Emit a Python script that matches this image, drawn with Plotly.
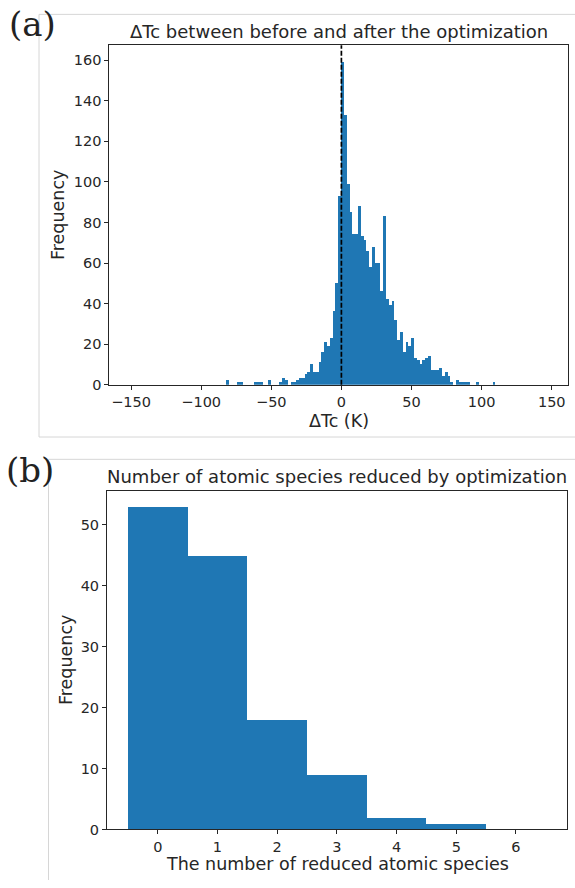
import numpy as np
import plotly.graph_objects as go

# ---------------- data ----------------
# Panel (a): histogram of delta Tc, bins of width 2 K starting at -82 K
dtc_bin_start = -82.0
dtc_bin_width = 2.0
dtc_counts = [
    2, 0, 0, 0, 1, 1, 0, 0, 0, 0,      # -82 .. -64
    1, 1, 1, 0, 0, 2, 0, 0, 0, 1,      # -62 .. -44
    3, 2, 0, 1, 1, 2, 3, 3, 5, 6,      # -42 .. -24
    10, 6, 6, 11, 16, 21, 19, 23, 36, 50,  # -22 .. -4
    93,                                # -2
    159, 133, 99, 85, 74, 74, 88, 73, 71, 66,  # 0 .. 18
    58, 68, 60, 60, 46, 83, 42, 39, 41, 32,    # 20 .. 38
    22, 26, 16, 21, 19, 23, 13, 12, 10, 12,    # 40 .. 58
    13, 14, 7, 7, 7, 8, 4, 6, 4, 1,            # 60 .. 78
    0, 2, 1, 1, 1, 1, 0, 0, 1, 0,              # 80 .. 98
    0, 0, 0, 0, 1,                             # 100 .. 106
]
dtc_xticks = [-150, -100, -50, 0, 50, 100, 150]
dtc_yticks = [0, 20, 40, 60, 80, 100, 120, 140, 160]

# Panel (b): number of atomic species reduced
species_reduced = [0, 1, 2, 3, 4, 5, 6]
species_counts = [53, 45, 18, 9, 2, 1, 0]
species_yticks = [0, 10, 20, 30, 40, 50]

title_a = "ΔTc between before and after the optimization"
title_b = "Number of atomic species reduced by optimization"
xlabel_a = "ΔTc (K)"
xlabel_b = "The number of reduced atomic species"
ylabel = "Frequency"

# ---------------- layout helpers ----------------
W, H = 575, 888


def px(x):
    return x / W


def py(y):
    return 1 - y / H


BLUE = "#1f77b4"
TXT = "#262626"
FONT = "DejaVu Sans"

dtc_centers = dtc_bin_start + dtc_bin_width * (np.arange(len(dtc_counts)) + 0.5)

fig = go.Figure()
fig.add_trace(go.Bar(x=dtc_centers, y=dtc_counts, width=dtc_bin_width,
                     marker=dict(color=BLUE, line=dict(width=0)),
                     xaxis="x", yaxis="y", showlegend=False))
fig.add_trace(go.Bar(x=species_reduced, y=species_counts, width=1.0,
                     marker=dict(color=BLUE, line=dict(width=0)),
                     xaxis="x2", yaxis="y2", showlegend=False))

axis_common = dict(showline=True, mirror=True, linecolor=TXT, linewidth=1,
                   ticks="outside", ticklen=4, tickcolor=TXT, tickwidth=1,
                   showgrid=False, zeroline=False,
                   tickfont=dict(family=FONT, size=14.5, color=TXT))

fig.update_layout(
    width=W, height=H, autosize=False,
    margin=dict(l=0, r=0, t=0, b=0),
    paper_bgcolor="white", plot_bgcolor="white",
    bargap=0,
    font=dict(family=FONT, color=TXT),
    xaxis=dict(domain=[px(109.3), px(568.3)], anchor="y",
               range=[-165.5, 161.8], tickvals=dtc_xticks, **axis_common),
    yaxis=dict(domain=[py(388.3), py(45.7)], anchor="x",
               range=[0, 167.3], tickvals=dtc_yticks, **axis_common),
    xaxis2=dict(domain=[px(107), px(566.7)], anchor="y2",
                range=[-0.85, 6.85], tickvals=species_reduced, **axis_common),
    yaxis2=dict(domain=[py(837), py(495)], anchor="x2",
                range=[0, 55.65], tickvals=species_yticks, **axis_common),
)

# dashed line at zero
fig.add_shape(type="line", xref="x", yref="y domain", x0=0, x1=0, y0=0, y1=1,
              line=dict(color="black", width=1.7, dash="5px,2px"))

# panel frames (light grey)
GREY = "#d6d6d6"
for (x0, y0, x1, y1) in [(39, 14.5, 575, 14.5), (39, 14.5, 39, 441), (39, 441, 575, 441),
                         (48.5, 463.5, 575, 463.5), (48.5, 463.5, 48.5, 888)]:
    fig.add_shape(type="line", xref="paper", yref="paper",
                  x0=px(x0), y0=py(y0), x1=px(x1), y1=py(y1),
                  line=dict(color=GREY, width=1))

ann = []


def text(x, y, s, size, rot=0, family=FONT, color=TXT):
    ann.append(dict(x=px(x), y=py(y), xref="paper", yref="paper", text=s,
                    showarrow=False, xanchor="center", yanchor="middle",
                    textangle=rot, font=dict(family=family, size=size, color=color)))


text(339, 32, title_a, 18)
text(337, 481, title_b, 18)
text(339, 425, xlabel_a, 17.5)
text(337, 872, xlabel_b, 17.5)
text(58, 217, ylabel, 17.5, rot=-90)
text(66, 666, ylabel, 17.5, rot=-90)
text(32, 24, "(a)", 34, family="DejaVu Serif", color="#222222")
text(30, 474, "(b)", 34, family="DejaVu Serif", color="#222222")
fig.update_layout(annotations=ann)

post = (
    "var d=document.documentElement,b=document.body;"
    "[d,b].forEach(function(e){e.style.margin='0';e.style.padding='0';"
    "e.style.overflow='hidden';e.style.height='888px';});"
    "var g=document.getElementById('{plot_id}');"
    "if(g&&g.parentNode){g.parentNode.style.height='888px';g.parentNode.style.overflow='hidden';}"
)

fig.write_html("out.html", config={"displayModeBar": False}, post_script=post)
